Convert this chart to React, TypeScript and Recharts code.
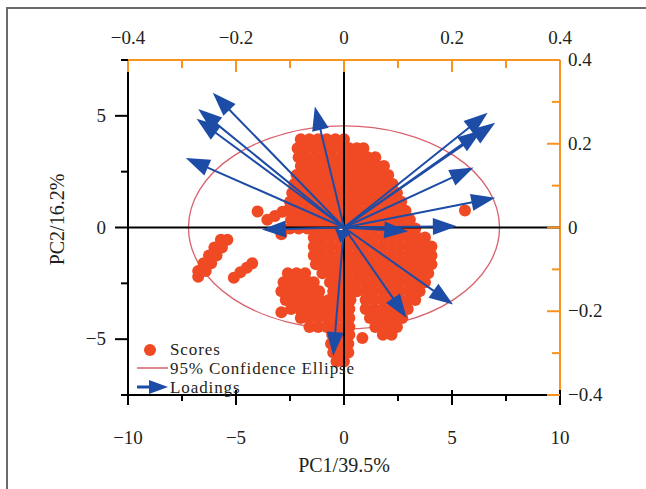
import React from 'react';
import { ScatterChart, Scatter, XAxis, YAxis, ReferenceLine, ReferenceArea, Legend } from 'recharts';

const X_MAJOR = [-10, -5, 0, 5, 10];
const X_TICKS = [-10, -7.5, -5, -2.5, 0, 2.5, 5, 7.5, 10];
const Y_MAJOR = [-5, 0, 5];
const Y_TICKS = [-7.5, -5, -2.5, 0, 2.5, 5, 7.5];
const L_MAJOR = [-0.4, -0.2, 0, 0.2, 0.4];
const L_TICKS = [-0.4, -0.3, -0.2, -0.1, 0, 0.1, 0.2, 0.3, 0.4];
const X_TITLE = 'PC1/39.5%';
const Y_TITLE = 'PC2/16.2%';
const LEGEND_LABELS = ['Scores', '95% Confidence Ellipse', 'Loadings'];

// score rows: [PC2, list of PC1 values]
const SCORE_ROWS: [number, number[]][] = [
  [3.95, [-2.0, -1.6, -1.2, -0.8, -0.4, 0.0]],
  [3.55, [-2.15, -1.75, -1.35, -0.95, -0.55, -0.15, 0.25, 0.6, 0.9]],
  [3.15, [-2.1, -1.7, -1.3, -0.9, -0.5, -0.1, 0.3, 0.7, 1.1, 1.45]],
  [2.75, [-2.0, -1.6, -1.2, -0.8, -0.4, 0.0, 0.4, 0.8, 1.2, 1.55, 1.85]],
  [2.35, [-2.2, -1.8, -1.4, -1.0, -0.6, -0.2, 0.2, 0.6, 1.0, 1.4, 1.75, 2.05]],
  [1.95, [-2.3, -1.9, -1.5, -1.1, -0.7, -0.3, 0.1, 0.5, 0.9, 1.3, 1.7, 2.0, 2.25]],
  [1.55, [-2.4, -2.0, -1.6, -1.2, -0.8, -0.4, 0.0, 0.4, 0.8, 1.2, 1.6, 2.0, 2.3, 2.45]],
  [1.15, [-2.5, -2.1, -1.7, -1.3, -0.9, -0.5, -0.1, 0.3, 0.7, 1.1, 1.5, 1.9, 2.3, 2.65]],
  [0.75, [-2.55, -2.15, -1.75, -1.35, -0.95, -0.55, -0.15, 0.25, 0.65, 1.05, 1.45, 1.85, 2.25, 2.6, 2.85]],
  [0.35, [-2.45, -2.05, -1.65, -1.25, -0.85, -0.45, -0.05, 0.35, 0.75, 1.15, 1.55, 1.95, 2.35, 2.75, 3.05]],
  [-0.05, [-2.5, -2.1, -1.7, -1.3, -0.9, -0.5, 0.2, 0.6, 1.0, 1.4, 1.8, 2.2, 2.6, 3.0, 3.3]],
  [-0.45, [-1.4, -1.0, -0.6, -0.2, 0.2, 0.6, 1.0, 1.4, 1.8, 2.2, 2.6, 3.0, 3.4, 3.75]],
  [-0.85, [-1.4, -1.0, -0.6, -0.2, 0.2, 0.6, 1.0, 1.4, 1.8, 2.2, 2.6, 3.0, 3.4, 3.8, 4.05]],
  [-1.25, [-1.4, -1.0, -0.6, -0.2, 0.2, 0.6, 1.0, 1.4, 1.8, 2.2, 2.6, 3.0, 3.4, 3.8, 4.05]],
  [-1.65, [-1.3, -0.9, -0.5, -0.1, 0.3, 0.7, 1.1, 1.5, 1.9, 2.3, 2.7, 3.1, 3.5, 3.85, 4.05]],
  [-2.05, [-2.6, -2.2, -1.8, -1.0, -0.6, -0.2, 0.2, 0.6, 1.0, 1.4, 1.8, 2.2, 2.6, 3.0, 3.4, 3.7, 3.9]],
  [-2.45, [-2.8, -2.4, -2.0, -1.6, -1.4, -0.65, -0.25, 0.15, 0.55, 0.95, 1.35, 1.75, 2.15, 2.55, 2.95, 3.35, 3.75]],
  [-2.85, [-2.9, -2.5, -2.1, -1.7, -1.3, -1.15, -0.5, -0.2, 0.2, 0.6, 1.0, 1.4, 1.8, 2.2, 2.6, 3.0, 3.3, 3.5]],
  [-3.25, [-2.7, -2.3, -1.9, -1.5, -1.1, -0.7, -0.3, 0.1, 0.3, 1.0, 1.4, 1.8, 2.2, 2.6, 3.0, 3.3]],
  [-3.65, [-2.45, -2.05, -1.65, -1.25, -0.85, -0.45, -0.05, 0.25, 1.0, 1.4, 1.8, 2.2, 2.6, 2.95]],
  [-4.05, [-2.0, -1.6, -1.2, -0.8, -0.4, 0.0, 0.25, 1.2, 1.6, 2.0, 2.4, 2.7]],
  [-4.45, [-1.6, -1.2, -0.8, -0.4, 0.0, 0.25, 1.45, 1.85, 2.2, 2.45]],
  [-4.8, [-0.55, -0.15, 0.25, 1.8, 2.2]],
  [-5.2, [-0.6, -0.2, 0.2]],
  [-5.6, [-0.5, -0.1, 0.2]],
  [-6.0, [-0.35, 0.0]],
];

// isolated score points and side clusters: [PC1, PC2]
const SCORE_EXTRA: [number, number][] = [
  [-4.0, 0.72],
  [-3.55, 0.35], [-3.2, 0.52], [-2.85, 0.7], [-2.5, 0.88],
  [-2.9, -0.3],
  [5.6, 0.76],
  [-2.9, -3.8],
  [0.85, -4.95],
  [-5.7, -0.55], [-5.4, -0.55], [-6.0, -0.9], [-5.65, -0.9], [-6.25, -1.25], [-5.9, -1.25],
  [-6.5, -1.6], [-6.15, -1.6], [-6.75, -1.95], [-6.4, -1.95], [-6.75, -2.2],
  [-5.1, -2.25], [-4.8, -2.0], [-4.5, -1.8], [-4.25, -1.6],
];

// loadings (top / right axes): [PC1 loading, PC2 loading]
const LOADINGS: [number, number][] = [
  [-0.243, 0.322],
  [-0.270, 0.283],
  [-0.273, 0.260],
  [-0.293, 0.166],
  [-0.054, 0.289],
  [-0.152, -0.005],
  [0.266, 0.274],
  [0.280, 0.250],
  [0.255, 0.232],
  [0.240, 0.143],
  [0.280, 0.071],
  [0.209, 0.003],
  [0.119, -0.009],
  [0.202, -0.184],
  [0.116, -0.216],
  [-0.020, -0.307],
  [-0.007, -0.036],
];

const ELLIPSE_RX = 7.2;
const ELLIPSE_RY = 4.55;

const RED = '#f04a24';
const BLUE = '#1d4ca6';
const ORANGE = '#f7931e';
const ELL = '#d9606c';
const TXT = '#231f20';
const FONT = '"Liberation Serif", "Times New Roman", serif';
const FS = 19;
const TITLE_FS = 20;
const LEG_FS = 17;

const fmt = (v: number) => (v < 0 ? '\u2212' + String(Math.abs(v)) : String(v));

const scoreData = SCORE_ROWS.flatMap(([y, xs]) => xs.map((x) => ({ x, y }))).concat(
  SCORE_EXTRA.map(([x, y]) => ({ x, y }))
);
const loadingData = LOADINGS.map(([x, y]) => ({ x, y }));

const BottomTick = (p: any) => {
  const { x, y, payload } = p;
  const v = payload.value;
  const major = X_MAJOR.includes(v);
  return (
    <g>
      <line x1={x} x2={x} y1={major ? y - 5 : y} y2={major ? y + 10 : y + 6} stroke="#000" strokeWidth={2} />
      {major && (
        <text x={x} y={y + 49} textAnchor="middle" fontSize={FS} fontFamily={FONT} fill={TXT}>
          {fmt(v)}
        </text>
      )}
    </g>
  );
};

const LeftTick = (p: any) => {
  const { x, y, payload } = p;
  const v = payload.value;
  const major = Y_MAJOR.includes(v);
  return (
    <g>
      <line x1={major ? x - 13 : x - 7} x2={x} y1={y} y2={y} stroke="#000" strokeWidth={2} />
      {major && (
        <text x={x - 22} y={y + 6} textAnchor="end" fontSize={FS} fontFamily={FONT} fill={TXT}>
          {fmt(v)}
        </text>
      )}
    </g>
  );
};

const RightTick = (p: any) => {
  const { x, y, payload } = p;
  const v = payload.value;
  const major = L_MAJOR.includes(v);
  return (
    <g>
      <line x1={major ? x - 13 : x - 8} x2={x} y1={y} y2={y} stroke={ORANGE} strokeWidth={2} />
      {major && (
        <text x={x + 8} y={y + 6} textAnchor="start" fontSize={FS} fontFamily={FONT} fill={TXT}>
          {fmt(v)}
        </text>
      )}
    </g>
  );
};

const TopTick = (p: any) => {
  const { x, y, payload } = p;
  const v = payload.value;
  const major = L_MAJOR.includes(v);
  return (
    <g>
      <line x1={x} x2={x} y1={y} y2={major ? y + 12 : y + 8} stroke={ORANGE} strokeWidth={2} />
      {major && (
        <text x={x} y={y - 16} textAnchor="middle" fontSize={FS} fontFamily={FONT} fill={TXT}>
          {fmt(v)}
        </text>
      )}
    </g>
  );
};

const Arrow = (p: any) => {
  const { x1, y1, x2, y2 } = p;
  const dx = x2 - x1;
  const dy = y2 - y1;
  const len = Math.sqrt(dx * dx + dy * dy) || 1;
  const ux = dx / len;
  const uy = dy / len;
  const hl = Math.min(24, len * 0.8);
  const hw = 8.5;
  const bx = x2 - ux * hl;
  const by = y2 - uy * hl;
  const pts = `${x2},${y2} ${bx - uy * hw},${by + ux * hw} ${bx + uy * hw},${by - ux * hw}`;
  return (
    <g>
      <line x1={x1} y1={y1} x2={bx + ux * 2} y2={by + uy * 2} stroke={BLUE} strokeWidth={2} />
      <polygon points={pts} fill={BLUE} />
    </g>
  );
};

const EllipseShape = (p: any) => (
  <ellipse
    cx={p.x + p.width / 2}
    cy={p.y + p.height / 2}
    rx={Math.abs(p.width) / 2}
    ry={Math.abs(p.height) / 2}
    fill="none"
    stroke={ELL}
    strokeWidth={1.3}
  />
);

const LegendContent = () => (
  <svg width={260} height={64} style={{ overflow: 'visible', display: 'block' }}>
    <circle cx={13} cy={10} r={6} fill={RED} />
    <text x={33} y={15} fontSize={LEG_FS} fontFamily={FONT} fill={TXT} letterSpacing={0.9}>
      {LEGEND_LABELS[0]}
    </text>
    <line x1={0} x2={31} y1={28} y2={28} stroke={ELL} strokeWidth={1.5} />
    <text x={33} y={34} fontSize={LEG_FS} fontFamily={FONT} fill={TXT} letterSpacing={0.9}>
      {LEGEND_LABELS[1]}
    </text>
    <line x1={0} x2={16} y1={47} y2={47} stroke={BLUE} strokeWidth={3} />
    <polygon points="31,47 12,40 12,54" fill={BLUE} />
    <text x={33} y={53} fontSize={LEG_FS} fontFamily={FONT} fill={TXT} letterSpacing={0.9}>
      {LEGEND_LABELS[2]}
    </text>
  </svg>
);

export default function App() {
  return (
    <div style={{ position: 'fixed', left: 0, top: 0, width: 646, height: 489, overflow: 'hidden', background: '#fff' }}>
      <div
        style={{
          position: 'absolute',
          left: 6,
          top: 7,
          width: 700,
          height: 600,
          borderLeft: '2px solid #6b6b6b',
          borderTop: '2px solid #6b6b6b',
        }}
      />
      <div style={{ position: 'absolute', left: 0, top: 0 }}>
        <ScatterChart width={646} height={489} margin={{ top: 0, right: 26, bottom: 14, left: 58 }}>
          <XAxis
            xAxisId="x"
            dataKey="x"
            type="number"
            orientation="bottom"
            domain={[-10, 10]}
            ticks={X_TICKS}
            interval={0}
            tickSize={0}
            tickMargin={0}
            height={80}
            axisLine={{ stroke: '#000', strokeWidth: 2 }}
            tickLine={false}
            tick={BottomTick}
            label={{
              content: (lp: any) => {
                const vb = lp.viewBox;
                return (
                  <text x={vb.x + vb.width / 2} y={vb.y + 77} textAnchor="middle" fontSize={TITLE_FS} fontFamily={FONT} fill={TXT}>
                    {X_TITLE}
                  </text>
                );
              },
            }}
          />
          <XAxis
            xAxisId="t"
            dataKey="x"
            type="number"
            orientation="top"
            domain={[-0.4, 0.4]}
            ticks={L_TICKS}
            interval={0}
            tickSize={0}
            tickMargin={0}
            height={60}
            axisLine={{ stroke: ORANGE, strokeWidth: 2 }}
            tickLine={false}
            tick={TopTick}
          />
          <YAxis
            yAxisId="y"
            dataKey="y"
            type="number"
            orientation="left"
            domain={[-7.5, 7.5]}
            ticks={Y_TICKS}
            interval={0}
            tickSize={0}
            tickMargin={0}
            width={70}
            axisLine={{ stroke: '#000', strokeWidth: 2 }}
            tickLine={false}
            tick={LeftTick}
            label={{
              content: (lp: any) => {
                const vb = lp.viewBox;
                const cx = vb.x + 6;
                const cy = vb.y + vb.height / 2 - 8;
                return (
                  <text
                    x={cx}
                    y={cy}
                    transform={`rotate(-90 ${cx} ${cy})`}
                    textAnchor="middle"
                    fontSize={TITLE_FS}
                    fontFamily={FONT}
                    fill={TXT}
                  >
                    {Y_TITLE}
                  </text>
                );
              },
            }}
          />
          <YAxis
            yAxisId="r"
            dataKey="y"
            type="number"
            orientation="right"
            domain={[-0.4, 0.4]}
            ticks={L_TICKS}
            interval={0}
            tickSize={0}
            tickMargin={0}
            width={60}
            axisLine={{ stroke: ORANGE, strokeWidth: 2 }}
            tickLine={false}
            tick={RightTick}
          />
          <ReferenceArea
            xAxisId="x"
            yAxisId="y"
            x1={-ELLIPSE_RX}
            x2={ELLIPSE_RX}
            y1={-ELLIPSE_RY}
            y2={ELLIPSE_RY}
            shape={EllipseShape}
          />
          <Scatter
            data={scoreData}
            xAxisId="x"
            yAxisId="y"
            isAnimationActive={false}
            shape={(p: any) => <circle cx={p.cx} cy={p.cy} r={6} fill={RED} />}
          />
          <Scatter
            data={loadingData}
            xAxisId="t"
            yAxisId="r"
            isAnimationActive={false}
            shape={() => <g />}
          />
          <ReferenceLine xAxisId="x" yAxisId="y" x={0} stroke="#000" strokeWidth={2} zIndex={650} />
          <ReferenceLine xAxisId="x" yAxisId="y" y={0} stroke="#000" strokeWidth={2} zIndex={650} />
          {LOADINGS.map(([lx, ly], i) => (
            <ReferenceLine
              key={i}
              xAxisId="t"
              yAxisId="r"
              segment={[{ x: 0, y: 0 }, { x: lx, y: ly }]}
              shape={Arrow}
              zIndex={700}
            />
          ))}
          <Legend
            layout="vertical"
            align="center"
            verticalAlign="middle"
            content={LegendContent}
            wrapperStyle={{ left: 137, top: 340, width: 260, height: 64 }}
          />
        </ScatterChart>
      </div>
    </div>
  );
}
